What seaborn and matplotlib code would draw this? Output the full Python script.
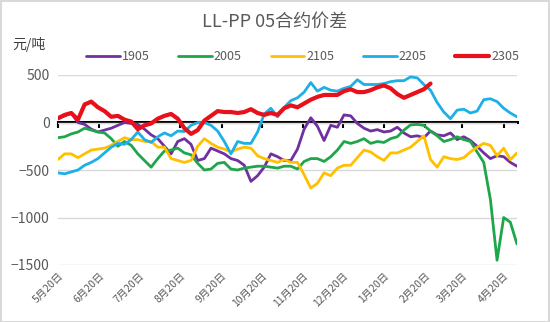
import numpy as np
import pandas as pd
import matplotlib
matplotlib.use("Agg")
import matplotlib.pyplot as plt
from matplotlib.patches import Rectangle
import seaborn as sns

# ---------------- data ----------------
start_date = "2018-05-20"
n_points = 70
step = "5D"

s1905 = [40, 70, 100, 0, -20, -70, -100, -80, -60, -30, 0, -10, -20, -70, -130, -170, -250, -330,
         -200, -170, -230, -400, -380, -270, -300, -330, -380, -400, -450, -620, -560, -470, -330, -360,
         -400, -400, -280, -70, 50, -40, -190, -30, -50, 80, 70, -10, -60, -90, -75, -100, -90, -50,
         -110, -150, -140, -160, -90, -130, -140, -110, -180, -150, -190, -250, -320, -380, -350, -360,
         -420, -460]
s2005 = [-160, -150, -120, -100, -60, -80, -100, -110, -170, -250, -200, -240, -330, -400, -470, -380,
         -300, -290, -270, -320, -340, -430, -500, -490, -430, -420, -490, -500, -480, -470, -460, -460,
         -470, -480, -460, -460, -490, -410, -380, -380, -410, -360, -290, -200, -220, -200, -170, -220,
         -200, -210, -170, -150, -80, -25, -20, -30, -90, -140, -200, -180, -150, -180, -200, -310, -420,
         -810, -1450, -1000, -1050, -1280]
s2105 = [-390, -330, -330, -370, -330, -290, -280, -270, -240, -200, -160, -180, -180, -200, -200, -260,
         -260, -380, -400, -420, -400, -250, -170, -220, -260, -280, -310, -280, -260, -270, -350, -380,
         -400, -420, -390, -420, -420, -550, -690, -640, -530, -560, -480, -450, -450, -370, -290, -310,
         -360, -400, -320, -320, -290, -260, -200, -140, -390, -470, -360, -380, -390, -370, -310, -260,
         -220, -240, -350, -270, -390, -320]
s2205 = [-530, -540, -520, -500, -450, -420, -380, -320, -260, -220, -230, -180, -100, -180, -210, -150,
         -110, -140, -90, -95, -30, 0, 0, -30, -90, -200, -330, -200, -220, -220, -100, 90, 150, 60, 160,
         230, 260, 320, 420, 330, 370, 340, 330, 360, 380, 450, 400, 400, 400, 410, 430, 440, 440, 480,
         470, 400, 340, 210, 110, 40, 130, 140, 100, 120, 240, 250, 220, 150, 100, 60]
s2305 = [45, 80, 100, 30, 190, 220, 160, 120, 60, 70, 30, 10, -70, -30, -10, 40, 70, 90, 40, -60, -120,
         -80, 20, 70, 120, 110, 110, 100, 110, 140, 100, 80, 100, 80, 150, 180, 160, 200, 240, 270, 290,
         290, 290, 330, 350, 320, 320, 340, 370, 390, 360, 300, 260, 290, 320, 350, 410]

series_names = ["1905", "2005", "2105", "2205", "2305"]
series_colors = ["#7030A0", "#1FA64A", "#FFC000", "#1CB0E6", "#E8101A"]

tick_dates = ["2018-05-20", "2018-06-20", "2018-07-20", "2018-08-20", "2018-09-20", "2018-10-20",
              "2018-11-20", "2018-12-20", "2019-01-20", "2019-02-20", "2019-03-20", "2019-04-20"]
tick_labels = ["5月20日", "6月20日", "7月20日", "8月20日", "9月20日", "10月20日",
               "11月20日", "12月20日", "1月20日", "2月20日", "3月20日", "4月20日"]
y_ticks = [500, 0, -500, -1000, -1500]

title_text = "LL-PP 05合约价差"
unit_text = "元/吨"

# ---------------- build table ----------------
dates = pd.date_range(start_date, periods=n_points, freq=step)
def pad(v):
    return list(v) + [np.nan] * (n_points - len(v))
df = pd.DataFrame({"date": dates,
                   "1905": pad(s1905), "2005": pad(s2005), "2105": pad(s2105),
                   "2205": pad(s2205), "2305": pad(s2305)})
long = df.melt(id_vars="date", var_name="合约", value_name="价差")

# ---------------- style ----------------
sns.set_theme(style="white")
plt.rcParams["font.family"] = ["Noto Sans CJK SC", "DejaVu Sans"]
gray = "#595959"

fig = plt.figure(figsize=(5.5, 3.22), dpi=100)
ax = fig.add_axes([58 / 550, 1 - 265 / 322, (517 - 58) / 550, (265 - 75) / 322])

for name, col in zip(series_names, series_colors):
    sub = long[long["合约"] == name].dropna()
    sns.lineplot(data=sub, x="date", y="价差", color=col, ax=ax,
                 linewidth=3.0 if name == "2305" else 2.0, label=name,
                 zorder=3 if name == "2305" else 2, legend=False)

ax.set_ylim(-1500, 500)
ax.set_xlim(pd.Timestamp("2018-05-20"), pd.Timestamp("2019-04-30"))
ax.set_yticks(y_ticks)
ax.yaxis.grid(True, color="#d9d9d9", linewidth=1)
ax.set_axisbelow(True)
for sp in ax.spines.values():
    sp.set_visible(False)
ax.set_xlabel("")
ax.set_ylabel("")

ax.set_xticks(pd.to_datetime(tick_dates))
ax.set_xticklabels(tick_labels, rotation=45, ha="right", rotation_mode="anchor",
                   fontsize=7.5, color=gray)
ax.tick_params(axis="x", length=0, pad=4)
ax.tick_params(axis="y", length=0, pad=6, labelsize=10, labelcolor=gray)

# zero axis line with downward ticks
frac0 = (0 - (-1500)) / (500 - (-1500))
sec = ax.secondary_xaxis(frac0)
sec.set_xticks(pd.to_datetime(tick_dates))
sec.tick_params(axis="x", direction="in", length=4, width=1.5, color="black",
                labelbottom=False, labeltop=False)
for sp in sec.spines.values():
    sp.set_linewidth(2.2)
    sp.set_color("black")

handles = ax.get_lines()[:5]
fig.legend(handles, series_names, loc="center", bbox_to_anchor=(0.55, 1 - 57 / 322), ncol=5,
           frameon=False, fontsize=9, handlelength=2.7, columnspacing=2.3, handletextpad=0.15,
           labelcolor=gray)

fig.text(0.5, 1 - 22 / 322, title_text, ha="center", va="center", fontsize=13, color=gray)
fig.text(12 / 550, 1 - 44 / 322, unit_text, ha="left", va="center", fontsize=10, color="#404040")

fig.patches.append(Rectangle((0.001, 0.001), 0.997, 0.996, transform=fig.transFigure,
                             fill=False, edgecolor="#d9d9d9", linewidth=1.5))

fig.savefig("out.png", dpi=100, facecolor="white")
